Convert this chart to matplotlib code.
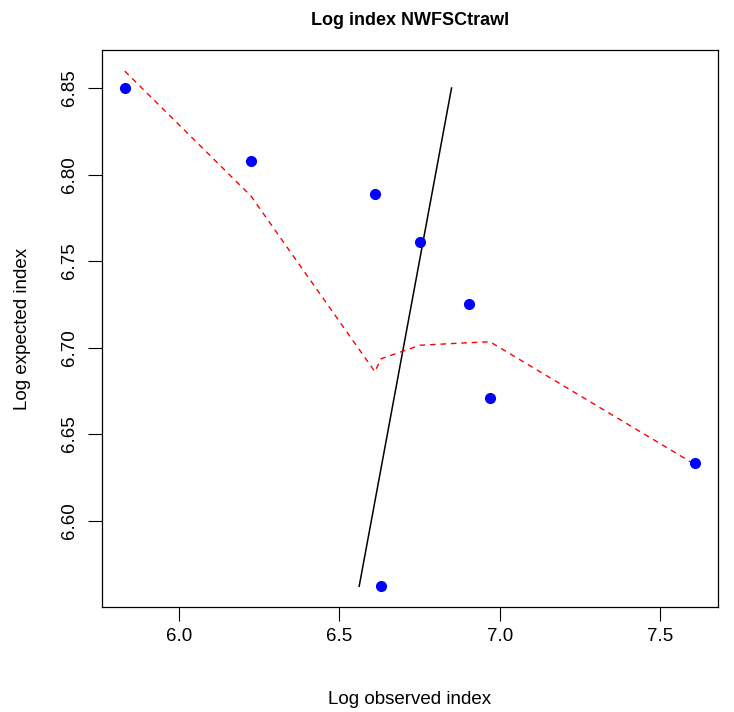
import matplotlib
matplotlib.use("Agg")
import matplotlib.pyplot as plt
import numpy as np

plt.rcParams['font.family'] = ['Liberation Sans', 'DejaVu Sans']

# log observed vs log expected index, NWFSCtrawl
log_obs = [5.831, 6.2245, 6.611, 6.7515, 6.904, 6.970, 7.610, 6.630]
log_exp = [6.850, 6.808, 6.789, 6.761, 6.725, 6.671, 6.633, 6.562]

# lowess smoother, at the sorted observed values
smooth_x = [5.831, 6.2245, 6.611, 6.630, 6.7515, 6.904, 6.970, 7.610]
smooth_y = [6.8598, 6.7876, 6.6860, 6.6935, 6.7013, 6.7028, 6.7033, 6.6323]

xticks = [6.0, 6.5, 7.0, 7.5]
yticks = [6.60, 6.65, 6.70, 6.75, 6.80, 6.85]

fig = plt.figure(figsize=(7.34, 7.12), dpi=100)
ax = fig.add_axes([102/734, 105/712, 616/734, 557/712])

ax.plot(log_obs, log_exp, 'o', color='blue', markersize=7, zorder=3)
# 1:1 line over the range of expected values
lo, hi = min(log_exp), max(log_exp)
ax.plot([lo, hi], [lo, hi], color='black', lw=1.1)
ax.plot(smooth_x, smooth_y, color='red', lw=1.0, dashes=(4, 3.5))

ax.set_xlim(5.760, 7.681)
ax.set_ylim(6.550, 6.872)
ax.set_xticks(xticks)
ax.set_xticklabels(['%.1f' % t for t in xticks])
ax.set_yticks(yticks)
ax.set_yticklabels(['%.2f' % t for t in yticks])
ax.tick_params(labelsize=13.5, length=10, width=0.8)
ax.tick_params(axis='x', pad=5)
ax.tick_params(axis='y', pad=7, labelrotation=90)
for lab in ax.get_yticklabels():
    lab.set_va('center')

for s in ax.spines.values():
    s.set_linewidth(0.9)

ax.set_xlabel('Log observed index', fontsize=13.5, labelpad=33)
ax.set_ylabel('Log expected index', fontsize=13.5, labelpad=22)
ax.set_title('Log index NWFSCtrawl', fontsize=13, fontweight='bold', pad=18)

fig.savefig('out.png', dpi=100)
